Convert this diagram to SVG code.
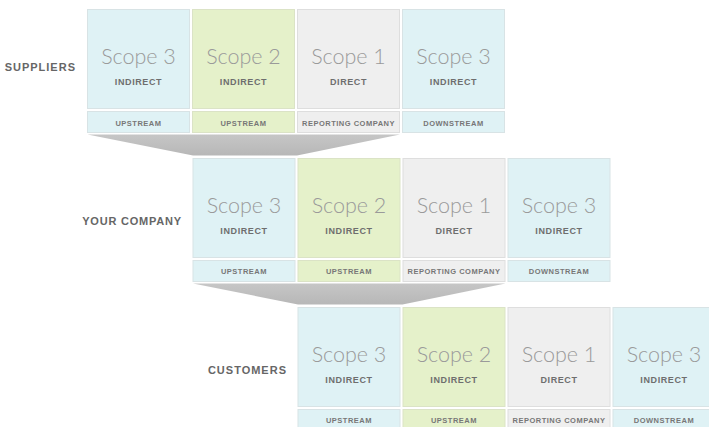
<svg xmlns="http://www.w3.org/2000/svg" width="709" height="427" viewBox="0 0 709 427">
<defs>
<style>
.b{fill:#dff2f5;stroke:#d8e3e5;stroke-width:1}
.g{fill:#e5f1ca;stroke:#dbe3c6;stroke-width:1}
.c{fill:#efefef;stroke:#dedede;stroke-width:1}
.sc{font-family:Lato,"Source Sans Pro","Liberation Sans",sans-serif;font-weight:300;font-size:21.5px;fill:#9a9a9a;text-anchor:middle}
.ty{font-family:"Liberation Sans",Arial,sans-serif;font-weight:bold;font-size:9px;letter-spacing:0.6px;fill:#6e6e6e;text-anchor:middle}
.st{font-family:"Liberation Sans",Arial,sans-serif;font-weight:bold;font-size:7.5px;letter-spacing:0.5px;fill:#777;text-anchor:middle}
.lb{font-family:"Liberation Sans",Arial,sans-serif;font-weight:bold;font-size:11px;fill:#666;text-anchor:end}
.fn{fill:url(#fg)}
</style>
<linearGradient id="fg" x1="0" y1="0" x2="0" y2="1">
<stop offset="0" stop-color="#c6c6c6"/>
<stop offset="1" stop-color="#b7b7b7"/>
</linearGradient>
</defs>

<g id="connectors">
<polygon class="fn" points="87.5,134.5 400,134.5 297,155.5 193,155.5"/>
<polygon class="fn" points="193,283.5 505.5,283.5 402.5,304.5 298,304.5"/>
</g>

<g id="label-suppliers"><text class="lb" x="76" y="71" style="letter-spacing:1px">SUPPLIERS</text></g>
<g id="label-your-company"><text class="lb" x="182" y="225" style="letter-spacing:0.8px">YOUR COMPANY</text></g>
<g id="label-customers"><text class="lb" x="287" y="373.5" style="letter-spacing:1px">CUSTOMERS</text></g>

<!-- Row 1: Suppliers -->
<g id="r1-s3up" transform="translate(87.5,9.5)">
<rect class="b" width="102" height="99"/><rect class="b" y="102" width="102" height="21"/>
<text class="sc" x="51" y="54">Scope 3</text><text class="ty" x="51" y="75">INDIRECT</text><text class="st" x="51" y="116">UPSTREAM</text>
</g>
<g id="r1-s2" transform="translate(192.5,9.5)">
<rect class="g" width="102" height="99"/><rect class="g" y="102" width="102" height="21"/>
<text class="sc" x="51" y="54">Scope 2</text><text class="ty" x="51" y="75">INDIRECT</text><text class="st" x="51" y="116">UPSTREAM</text>
</g>
<g id="r1-s1" transform="translate(297.5,9.5)">
<rect class="c" width="102" height="99"/><rect class="c" y="102" width="102" height="21"/>
<text class="sc" x="51" y="54">Scope 1</text><text class="ty" x="51" y="75">DIRECT</text><text class="st" x="51" y="116">REPORTING COMPANY</text>
</g>
<g id="r1-s3down" transform="translate(402.5,9.5)">
<rect class="b" width="102" height="99"/><rect class="b" y="102" width="102" height="21"/>
<text class="sc" x="51" y="54">Scope 3</text><text class="ty" x="51" y="75">INDIRECT</text><text class="st" x="51" y="116">DOWNSTREAM</text>
</g>

<!-- Row 2: Your company -->
<g id="r2-s3up" transform="translate(193,158.5)">
<rect class="b" width="102" height="99"/><rect class="b" y="102" width="102" height="21"/>
<text class="sc" x="51" y="54">Scope 3</text><text class="ty" x="51" y="75">INDIRECT</text><text class="st" x="51" y="115">UPSTREAM</text>
</g>
<g id="r2-s2" transform="translate(298,158.5)">
<rect class="g" width="102" height="99"/><rect class="g" y="102" width="102" height="21"/>
<text class="sc" x="51" y="54">Scope 2</text><text class="ty" x="51" y="75">INDIRECT</text><text class="st" x="51" y="115">UPSTREAM</text>
</g>
<g id="r2-s1" transform="translate(403,158.5)">
<rect class="c" width="102" height="99"/><rect class="c" y="102" width="102" height="21"/>
<text class="sc" x="51" y="54">Scope 1</text><text class="ty" x="51" y="75">DIRECT</text><text class="st" x="51" y="115">REPORTING COMPANY</text>
</g>
<g id="r2-s3down" transform="translate(508,158.5)">
<rect class="b" width="102" height="99"/><rect class="b" y="102" width="102" height="21"/>
<text class="sc" x="51" y="54">Scope 3</text><text class="ty" x="51" y="75">INDIRECT</text><text class="st" x="51" y="115">DOWNSTREAM</text>
</g>

<!-- Row 3: Customers -->
<g id="r3-s3up" transform="translate(298,307.5)">
<rect class="b" width="102" height="99"/><rect class="b" y="102" width="102" height="21"/>
<text class="sc" x="51" y="54">Scope 3</text><text class="ty" x="51" y="75">INDIRECT</text><text class="st" x="51" y="115">UPSTREAM</text>
</g>
<g id="r3-s2" transform="translate(403,307.5)">
<rect class="g" width="102" height="99"/><rect class="g" y="102" width="102" height="21"/>
<text class="sc" x="51" y="54">Scope 2</text><text class="ty" x="51" y="75">INDIRECT</text><text class="st" x="51" y="115">UPSTREAM</text>
</g>
<g id="r3-s1" transform="translate(508,307.5)">
<rect class="c" width="102" height="99"/><rect class="c" y="102" width="102" height="21"/>
<text class="sc" x="51" y="54">Scope 1</text><text class="ty" x="51" y="75">DIRECT</text><text class="st" x="51" y="115">REPORTING COMPANY</text>
</g>
<g id="r3-s3down" transform="translate(613,307.5)">
<rect class="b" width="102" height="99"/><rect class="b" y="102" width="102" height="21"/>
<text class="sc" x="51" y="54">Scope 3</text><text class="ty" x="51" y="75">INDIRECT</text><text class="st" x="51" y="115">DOWNSTREAM</text>
</g>
</svg>
